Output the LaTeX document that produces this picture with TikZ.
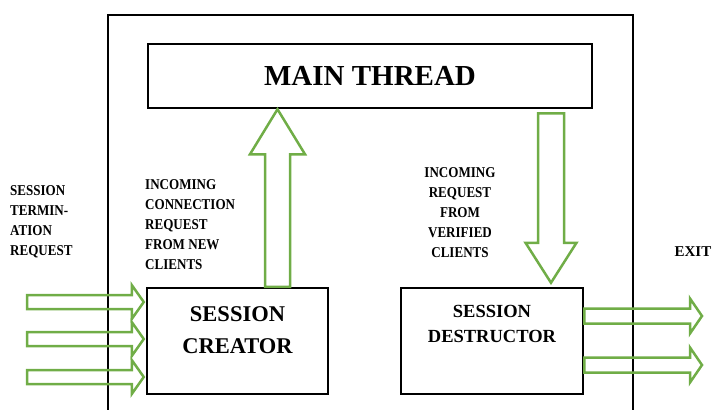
\documentclass[tikz,border=0pt]{standalone}
\usepackage{fontspec}
\setmainfont{Liberation Serif}
\newfontfamily\notefont[FakeStretch=0.87]{Liberation Serif}
\usetikzlibrary{calc,positioning}
\definecolor{flowgreen}{HTML}{70AD47}

\tikzset{
  box/.style={draw, line width=2.5pt, inner sep=0pt},
  flow/.style={draw=flowgreen, line width=2.5pt, line join=miter},
  note/.style={font=\notefont\fontsize{15}{20}\selectfont\bfseries, inner sep=0pt},
}

% hollow block arrow: from, to, shaft half width, head half width, head length
\newcommand{\blockarrow}[5]{%
  \coordinate (ba-head) at ($(#2)!#5!(#1)$);
  \draw[flow] ($(#1)!#3!90:(#2)$) -- ($(ba-head)!#3!90:(#2)$)
    -- ($(ba-head)!#4!90:(#2)$) -- (#2) -- ($(ba-head)!#4!-90:(#2)$)
    -- ($(ba-head)!#3!-90:(#2)$) -- ($(#1)!#3!-90:(#2)$) -- cycle;}

\begin{document}
\begin{tikzpicture}[x=1pt, y=-1pt]
\useasboundingbox (0,0) rectangle (713,410);

\draw[line width=2pt] (108,410) -- (108,15) -- (633,15) -- (633,410);

\node[box, minimum width=444, minimum height=64,
  font=\fontsize{29}{30}\selectfont\bfseries] (main) at (370,76) {MAIN THREAD};
\node[box, minimum width=181, minimum height=106] (creator) at (237.5,341) {};
\node[box, minimum width=182, minimum height=106] (destructor) at (492,341) {};

\node[align=center, inner sep=0pt, font=\fontsize{22.5}{32}\selectfont\bfseries]
  (creatortext) at ($(creator.center)+(0,-11)$) {SESSION\\CREATOR};
\node[align=center, inner sep=0pt, font=\fontsize{18.5}{25}\selectfont\bfseries]
  (destructortext) at ($(destructor.center)+(0,-17.5)$) {SESSION\\DESTRUCTOR};

\node[note, align=left, anchor=west] (termination) at (10,222)
  {SESSION\\TERMIN-\\ATION\\REQUEST};
\node[note, align=left, anchor=west] (newclients) at (145,225)
  {INCOMING\\CONNECTION\\REQUEST\\FROM NEW\\CLIENTS};
\node[note, align=center] (verified) at (460,213)
  {INCOMING\\REQUEST\\FROM\\VERIFIED\\CLIENTS};
\node[inner sep=0pt, font=\fontsize{15}{18}\selectfont\bfseries] (exit) at (693,252) {EXIT};

\coordinate (upfoot) at ($(creator.north)+(40,0)$);
\coordinate (uptip) at (upfoot |- main.south);
\blockarrow{upfoot}{uptip}{12.5pt}{27.5pt}{45pt}

\coordinate (downfoot) at ($(main.south)+(181,4)$);
\coordinate (downtip) at ($(downfoot |- destructor.north)+(0,-4)$);
\blockarrow{downfoot}{downtip}{13pt}{25.5pt}{40pt}

\foreach \y [count=\i] in {302,339,377} {
  \coordinate (in\i) at (27,\y);
  \coordinate (intip\i) at ($(in\i -| creator.west)+(-2,0)$);
  \blockarrow{in\i}{intip\i}{7pt}{17pt}{12pt}
}

\foreach \y [count=\i] in {316,365} {
  \coordinate (outfoot\i) at (destructor.east |- 0,\y);
  \coordinate (out\i) at (702,\y);
  \blockarrow{outfoot\i}{out\i}{7.5pt}{17.5pt}{12pt}
}
\end{tikzpicture}
\end{document}
